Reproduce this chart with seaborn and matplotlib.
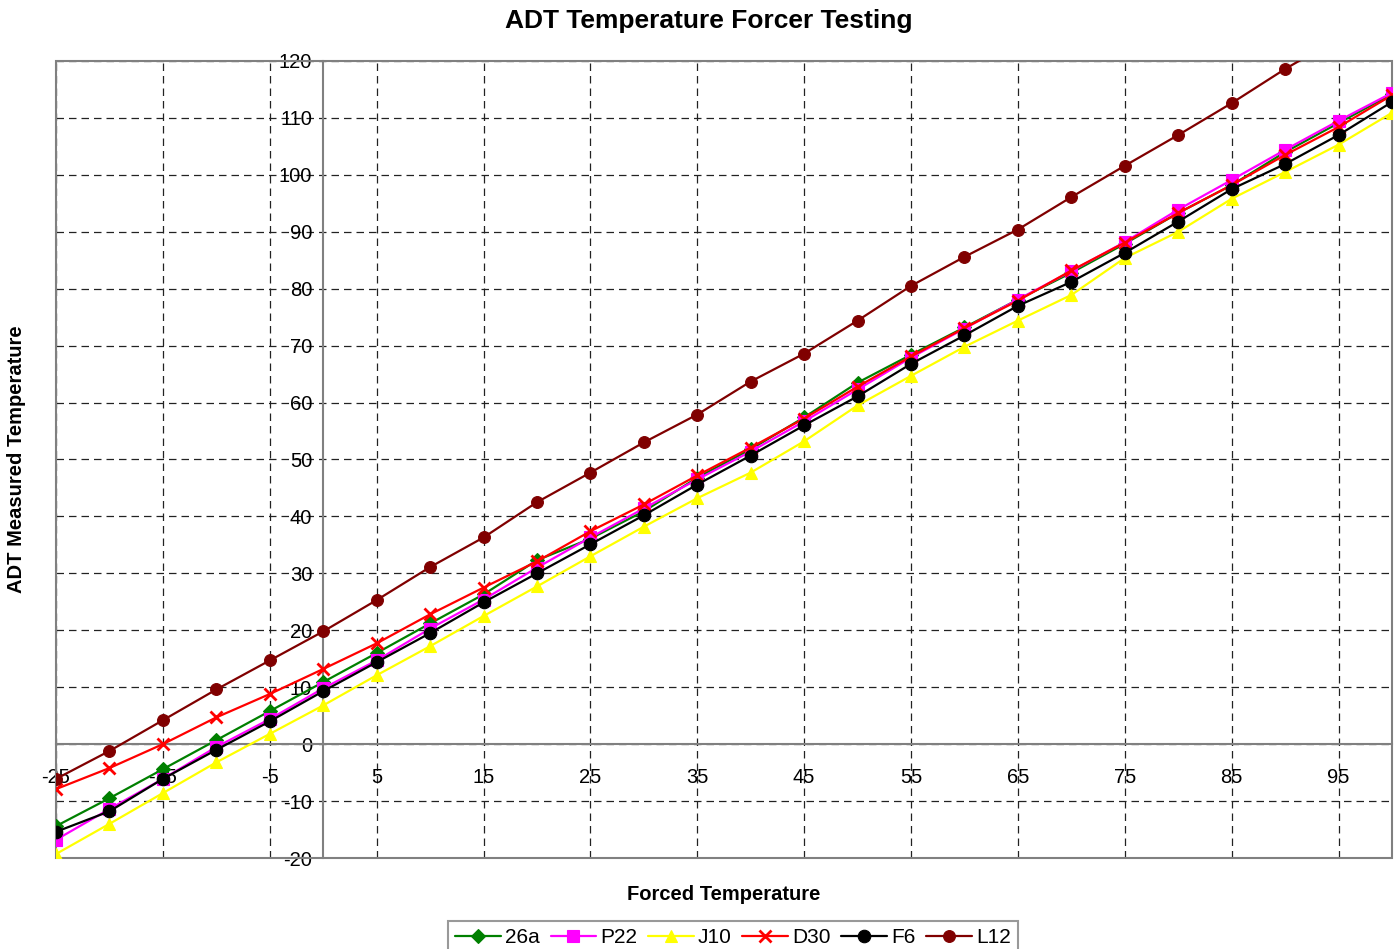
import matplotlib
matplotlib.use("Agg")
import matplotlib.pyplot as plt
from matplotlib.patches import Rectangle
import seaborn as sns

# Forced temperature set points (deg C)
forced = [-25, -20, -15, -10, -5, 0, 5, 10, 15, 20, 25, 30, 35, 40, 45,
          50, 55, 60, 65, 70, 75, 80, 85, 90, 95, 100]

# Measured temperatures per sensor
s_26a = [-14.4, -9.5, -4.4, 0.7, 5.8, 10.9, 16.0, 21.2, 26.3, 32.3, 36.1, 40.9, 46.8,
         51.8, 57.4, 63.5, 68.4, 73.2, 78.1, 82.8, 87.9, 93.3, 98.2, 104.0, 109.1, 114.2]
s_p22 = [-16.8, -11.4, -6.1, -0.5, 4.4, 9.8, 14.7, 20.3, 25.4, 31.0, 36.3, 41.4, 46.5,
         51.4, 56.7, 62.3, 67.9, 73.0, 78.1, 83.1, 88.2, 93.9, 99.1, 104.4, 109.5, 114.4]
s_j10 = [-19.3, -14.0, -8.6, -3.2, 1.8, 6.8, 12.1, 17.2, 22.5, 27.7, 33.0, 38.2, 43.2,
         47.7, 53.2, 59.5, 64.7, 69.8, 74.4, 78.9, 85.4, 90.0, 95.8, 100.5, 105.3, 110.9]
s_d30 = [-7.9, -4.2, 0.0, 4.7, 8.8, 13.2, 17.7, 22.8, 27.5, 32.1, 37.4, 42.1, 47.2,
         52.1, 57.2, 62.8, 68.1, 73.1, 77.9, 83.2, 88.1, 93.3, 98.2, 103.5, 108.4, 114.0]
s_f6 = [-15.4, -11.8, -6.1, -1.0, 4.0, 9.3, 14.4, 19.5, 24.9, 30.0, 35.1, 40.2, 45.6,
        50.7, 56.0, 61.1, 66.8, 71.8, 77.0, 81.2, 86.3, 91.8, 97.5, 101.9, 107.0, 112.8]
s_l12 = [-6.1, -1.2, 4.2, 9.6, 14.7, 19.8, 25.3, 31.1, 36.3, 42.5, 47.7, 53.0, 57.9,
         63.7, 68.6, 74.4, 80.5, 85.6, 90.4, 96.1, 101.6, 107.0, 112.6, 118.6, 124.0, 129.5]

sensor_names = ["26a", "P22", "J10", "D30", "F6", "L12"]
sensor_values = [s_26a, s_p22, s_j10, s_d30, s_f6, s_l12]
sensor_colors = ["#008000", "#FF00FF", "#FFFF00", "#FF0000", "#000000", "#800000"]
sensor_markers = ["D", "s", "^", "x", "o", "o"]
marker_sizes = [7, 8, 9, 9, 9, 8.5]

x_ticks = list(range(-25, 100, 10))
y_ticks = list(range(-20, 121, 10))

sns.set_style("white")
plt.rcParams["font.family"] = ["Liberation Sans", "DejaVu Sans"]
plt.rcParams["text.color"] = "black"
plt.rcParams["xtick.color"] = "black"
plt.rcParams["ytick.color"] = "black"

fig = plt.figure(figsize=(14, 9.49), dpi=100)
ax = fig.add_axes([56 / 1400, 1 - 858 / 949, (1392 - 56) / 1400, (858 - 61) / 949])

for name, vals, col, mk, ms in zip(sensor_names, sensor_values, sensor_colors,
                                   sensor_markers, marker_sizes):
    sns.lineplot(x=forced, y=vals, ax=ax, color=col, marker=mk, markersize=ms,
                 markeredgecolor=col, markerfacecolor=col,
                 markeredgewidth=2 if mk == "x" else 0.8,
                 linewidth=1.6, label=name, zorder=3)

ax.set_xlim(-25, 100)
ax.set_ylim(-20, 120)
ax.set_xticks(x_ticks)
ax.set_yticks(y_ticks)
ax.set_xticklabels([str(t) for t in x_ticks])
ax.set_yticklabels([str(t) for t in y_ticks])
ax.set_xlabel("")
ax.set_ylabel("")

# Dashed grid
ax.grid(True, color="#222222", linestyle=(0, (6, 4)), linewidth=0.9, zorder=1)
ax.set_axisbelow(True)

# Axes crossing at the origin
for side in ["top", "right"]:
    ax.spines[side].set_visible(False)
ax.spines["left"].set_position(("data", 0))
ax.spines["bottom"].set_position(("data", 0))
for side in ["left", "bottom"]:
    ax.spines[side].set_color("#808080")
    ax.spines[side].set_linewidth(1.5)
    ax.spines[side].set_zorder(2)

ax.tick_params(axis="y", direction="out", length=5, width=1.2, color="#808080",
               labelcolor="black", labelsize=14.5, pad=3)
ax.tick_params(axis="x", direction="inout", length=8, width=1.2, color="#808080",
               labelcolor="black", labelsize=14.5, pad=13)

# Plot-area frame
ax.add_patch(Rectangle((0, 0), 1, 1, transform=ax.transAxes, fill=False,
                       edgecolor="#808080", linewidth=1.5, zorder=2, clip_on=False))

handles, labels = ax.get_legend_handles_labels()
ax.get_legend().remove()
leg = fig.legend(handles, labels, loc="upper center",
                 bbox_to_anchor=(733 / 1400, 1 - 921 / 949), ncol=6,
                 frameon=True, fancybox=False, edgecolor="#808080", fontsize=15,
                 handlelength=2.2, handletextpad=0.2, columnspacing=0.5,
                 borderpad=0.35, borderaxespad=0)
leg.get_frame().set_linewidth(1.5)

fig.text(709 / 1400, 1 - 21 / 949, "ADT Temperature Forcer Testing",
         ha="center", va="center", fontsize=19, fontweight="bold")
fig.text(724 / 1400, 1 - 895 / 949, "Forced Temperature",
         ha="center", va="center", fontsize=14.5, fontweight="bold")
fig.text(17 / 1400, 1 - 459 / 949, "ADT Measured Temperature",
         ha="center", va="center", rotation=90, fontsize=14.5, fontweight="bold")

fig.savefig("out.png", dpi=100)
